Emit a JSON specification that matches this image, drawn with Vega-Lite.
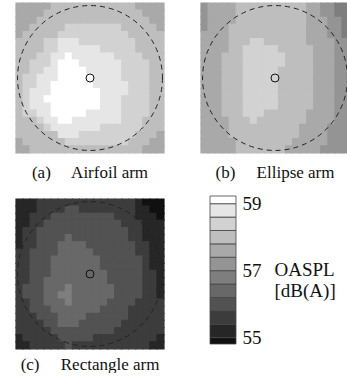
{
"$schema":"https://vega.github.io/schema/vega-lite/v6.json",
"background":"white",
"padding":{"left":15,"top":2,"right":0,"bottom":0},
"config":{"view":{"stroke":null},"title":{"font":"Liberation Serif","fontSize":17,"fontWeight":"normal","color":"#111"}},
"datasets":{
"a":[
{"i":0,"j":0,"v":57.6},{"i":1,"j":0,"v":57.6},{"i":2,"j":0,"v":57.6},{"i":3,"j":0,"v":57.6},{"i":4,"j":0,"v":57.6},{"i":5,"j":0,"v":58},{"i":6,"j":0,"v":58},{"i":7,"j":0,"v":58},{"i":8,"j":0,"v":58},{"i":9,"j":0,"v":58},{"i":10,"j":0,"v":58},{"i":11,"j":0,"v":58},{"i":12,"j":0,"v":58},{"i":13,"j":0,"v":58},{"i":14,"j":0,"v":58},{"i":15,"j":0,"v":58},{"i":16,"j":0,"v":58},{"i":17,"j":0,"v":57.6},{"i":18,"j":0,"v":57.6},{"i":19,"j":0,"v":57.6},{"i":20,"j":0,"v":57.6},
{"i":0,"j":1,"v":57.6},{"i":1,"j":1,"v":57.6},{"i":2,"j":1,"v":57.6},{"i":3,"j":1,"v":57.6},{"i":4,"j":1,"v":58},{"i":5,"j":1,"v":58},{"i":6,"j":1,"v":58},{"i":7,"j":1,"v":58},{"i":8,"j":1,"v":58},{"i":9,"j":1,"v":58},{"i":10,"j":1,"v":58},{"i":11,"j":1,"v":58},{"i":12,"j":1,"v":58},{"i":13,"j":1,"v":58},{"i":14,"j":1,"v":58},{"i":15,"j":1,"v":58},{"i":16,"j":1,"v":58},{"i":17,"j":1,"v":58},{"i":18,"j":1,"v":57.6},{"i":19,"j":1,"v":57.6},{"i":20,"j":1,"v":57.6},
{"i":0,"j":2,"v":57.6},{"i":1,"j":2,"v":57.6},{"i":2,"j":2,"v":57.6},{"i":3,"j":2,"v":58},{"i":4,"j":2,"v":58},{"i":5,"j":2,"v":58},{"i":6,"j":2,"v":58},{"i":7,"j":2,"v":58},{"i":8,"j":2,"v":58},{"i":9,"j":2,"v":58},{"i":10,"j":2,"v":58},{"i":11,"j":2,"v":58},{"i":12,"j":2,"v":58},{"i":13,"j":2,"v":58},{"i":14,"j":2,"v":58},{"i":15,"j":2,"v":58},{"i":16,"j":2,"v":58},{"i":17,"j":2,"v":58},{"i":18,"j":2,"v":58},{"i":19,"j":2,"v":57.6},{"i":20,"j":2,"v":57.6},
{"i":0,"j":3,"v":57.6},{"i":1,"j":3,"v":57.6},{"i":2,"j":3,"v":58},{"i":3,"j":3,"v":58},{"i":4,"j":3,"v":58},{"i":5,"j":3,"v":58},{"i":6,"j":3,"v":58},{"i":7,"j":3,"v":58.4},{"i":8,"j":3,"v":58.4},{"i":9,"j":3,"v":58.4},{"i":10,"j":3,"v":58.4},{"i":11,"j":3,"v":58.4},{"i":12,"j":3,"v":58.4},{"i":13,"j":3,"v":58.4},{"i":14,"j":3,"v":58.4},{"i":15,"j":3,"v":58},{"i":16,"j":3,"v":58},{"i":17,"j":3,"v":58},{"i":18,"j":3,"v":58},{"i":19,"j":3,"v":58},{"i":20,"j":3,"v":57.6},
{"i":0,"j":4,"v":57.6},{"i":1,"j":4,"v":58},{"i":2,"j":4,"v":58},{"i":3,"j":4,"v":58},{"i":4,"j":4,"v":58},{"i":5,"j":4,"v":58},{"i":6,"j":4,"v":58.4},{"i":7,"j":4,"v":58.4},{"i":8,"j":4,"v":58.4},{"i":9,"j":4,"v":58.4},{"i":10,"j":4,"v":58.4},{"i":11,"j":4,"v":58.4},{"i":12,"j":4,"v":58.4},{"i":13,"j":4,"v":58.4},{"i":14,"j":4,"v":58.4},{"i":15,"j":4,"v":58.4},{"i":16,"j":4,"v":58},{"i":17,"j":4,"v":58},{"i":18,"j":4,"v":58},{"i":19,"j":4,"v":58},{"i":20,"j":4,"v":58},
{"i":0,"j":5,"v":58},{"i":1,"j":5,"v":58},{"i":2,"j":5,"v":58},{"i":3,"j":5,"v":58},{"i":4,"j":5,"v":58.4},{"i":5,"j":5,"v":58.4},{"i":6,"j":5,"v":58.8},{"i":7,"j":5,"v":58.8},{"i":8,"j":5,"v":58.8},{"i":9,"j":5,"v":58.4},{"i":10,"j":5,"v":58.4},{"i":11,"j":5,"v":58.4},{"i":12,"j":5,"v":58.4},{"i":13,"j":5,"v":58.4},{"i":14,"j":5,"v":58.4},{"i":15,"j":5,"v":58.4},{"i":16,"j":5,"v":58.4},{"i":17,"j":5,"v":58},{"i":18,"j":5,"v":58},{"i":19,"j":5,"v":58},{"i":20,"j":5,"v":58},
{"i":0,"j":6,"v":58},{"i":1,"j":6,"v":58},{"i":2,"j":6,"v":58},{"i":3,"j":6,"v":58},{"i":4,"j":6,"v":58.4},{"i":5,"j":6,"v":58.4},{"i":6,"j":6,"v":58.8},{"i":7,"j":6,"v":58.8},{"i":8,"j":6,"v":58.8},{"i":9,"j":6,"v":58.8},{"i":10,"j":6,"v":58.8},{"i":11,"j":6,"v":58.8},{"i":12,"j":6,"v":58.4},{"i":13,"j":6,"v":58.4},{"i":14,"j":6,"v":58.4},{"i":15,"j":6,"v":58.4},{"i":16,"j":6,"v":58.4},{"i":17,"j":6,"v":58},{"i":18,"j":6,"v":58},{"i":19,"j":6,"v":58},{"i":20,"j":6,"v":58},
{"i":0,"j":7,"v":58},{"i":1,"j":7,"v":58},{"i":2,"j":7,"v":58},{"i":3,"j":7,"v":58.4},{"i":4,"j":7,"v":58.4},{"i":5,"j":7,"v":58.8},{"i":6,"j":7,"v":58.8},{"i":7,"j":7,"v":59.1},{"i":8,"j":7,"v":58.8},{"i":9,"j":7,"v":58.8},{"i":10,"j":7,"v":58.8},{"i":11,"j":7,"v":58.8},{"i":12,"j":7,"v":58.8},{"i":13,"j":7,"v":58.8},{"i":14,"j":7,"v":58.4},{"i":15,"j":7,"v":58.4},{"i":16,"j":7,"v":58.4},{"i":17,"j":7,"v":58.4},{"i":18,"j":7,"v":58},{"i":19,"j":7,"v":58},{"i":20,"j":7,"v":58},
{"i":0,"j":8,"v":58},{"i":1,"j":8,"v":58},{"i":2,"j":8,"v":58.4},{"i":3,"j":8,"v":58.4},{"i":4,"j":8,"v":58.4},{"i":5,"j":8,"v":58.8},{"i":6,"j":8,"v":59.1},{"i":7,"j":8,"v":59.1},{"i":8,"j":8,"v":59.1},{"i":9,"j":8,"v":58.8},{"i":10,"j":8,"v":58.8},{"i":11,"j":8,"v":58.8},{"i":12,"j":8,"v":58.8},{"i":13,"j":8,"v":58.8},{"i":14,"j":8,"v":58.8},{"i":15,"j":8,"v":58.4},{"i":16,"j":8,"v":58.4},{"i":17,"j":8,"v":58.4},{"i":18,"j":8,"v":58.4},{"i":19,"j":8,"v":58},{"i":20,"j":8,"v":58},
{"i":0,"j":9,"v":58},{"i":1,"j":9,"v":58},{"i":2,"j":9,"v":58.4},{"i":3,"j":9,"v":58.4},{"i":4,"j":9,"v":58.8},{"i":5,"j":9,"v":58.8},{"i":6,"j":9,"v":59.1},{"i":7,"j":9,"v":59.1},{"i":8,"j":9,"v":59.1},{"i":9,"j":9,"v":59.1},{"i":10,"j":9,"v":58.8},{"i":11,"j":9,"v":58.8},{"i":12,"j":9,"v":58.8},{"i":13,"j":9,"v":58.8},{"i":14,"j":9,"v":58.8},{"i":15,"j":9,"v":58.4},{"i":16,"j":9,"v":58.4},{"i":17,"j":9,"v":58.4},{"i":18,"j":9,"v":58.4},{"i":19,"j":9,"v":58},{"i":20,"j":9,"v":58},
{"i":0,"j":10,"v":58},{"i":1,"j":10,"v":58.4},{"i":2,"j":10,"v":58.4},{"i":3,"j":10,"v":58.8},{"i":4,"j":10,"v":58.8},{"i":5,"j":10,"v":58.8},{"i":6,"j":10,"v":59.1},{"i":7,"j":10,"v":59.1},{"i":8,"j":10,"v":59.1},{"i":9,"j":10,"v":59.1},{"i":10,"j":10,"v":59.1},{"i":11,"j":10,"v":58.8},{"i":12,"j":10,"v":58.8},{"i":13,"j":10,"v":58.8},{"i":14,"j":10,"v":58.8},{"i":15,"j":10,"v":58.4},{"i":16,"j":10,"v":58.4},{"i":17,"j":10,"v":58.4},{"i":18,"j":10,"v":58.4},{"i":19,"j":10,"v":58},{"i":20,"j":10,"v":58},
{"i":0,"j":11,"v":58},{"i":1,"j":11,"v":58.4},{"i":2,"j":11,"v":58.4},{"i":3,"j":11,"v":58.8},{"i":4,"j":11,"v":58.8},{"i":5,"j":11,"v":59.1},{"i":6,"j":11,"v":59.1},{"i":7,"j":11,"v":59.1},{"i":8,"j":11,"v":59.1},{"i":9,"j":11,"v":59.1},{"i":10,"j":11,"v":59.1},{"i":11,"j":11,"v":58.8},{"i":12,"j":11,"v":58.8},{"i":13,"j":11,"v":58.8},{"i":14,"j":11,"v":58.8},{"i":15,"j":11,"v":58.8},{"i":16,"j":11,"v":58.4},{"i":17,"j":11,"v":58.4},{"i":18,"j":11,"v":58.4},{"i":19,"j":11,"v":58},{"i":20,"j":11,"v":58},
{"i":0,"j":12,"v":58},{"i":1,"j":12,"v":58.4},{"i":2,"j":12,"v":58.8},{"i":3,"j":12,"v":58.8},{"i":4,"j":12,"v":58.8},{"i":5,"j":12,"v":59.1},{"i":6,"j":12,"v":59.1},{"i":7,"j":12,"v":59.1},{"i":8,"j":12,"v":59.1},{"i":9,"j":12,"v":59.1},{"i":10,"j":12,"v":59.1},{"i":11,"j":12,"v":59.1},{"i":12,"j":12,"v":58.8},{"i":13,"j":12,"v":58.8},{"i":14,"j":12,"v":58.8},{"i":15,"j":12,"v":58.8},{"i":16,"j":12,"v":58.4},{"i":17,"j":12,"v":58.4},{"i":18,"j":12,"v":58.4},{"i":19,"j":12,"v":58},{"i":20,"j":12,"v":58},
{"i":0,"j":13,"v":58},{"i":1,"j":13,"v":58.4},{"i":2,"j":13,"v":58.8},{"i":3,"j":13,"v":58.8},{"i":4,"j":13,"v":59.1},{"i":5,"j":13,"v":59.1},{"i":6,"j":13,"v":59.1},{"i":7,"j":13,"v":59.1},{"i":8,"j":13,"v":59.1},{"i":9,"j":13,"v":59.1},{"i":10,"j":13,"v":59.1},{"i":11,"j":13,"v":59.1},{"i":12,"j":13,"v":58.8},{"i":13,"j":13,"v":58.8},{"i":14,"j":13,"v":58.8},{"i":15,"j":13,"v":58.4},{"i":16,"j":13,"v":58.4},{"i":17,"j":13,"v":58.4},{"i":18,"j":13,"v":58.4},{"i":19,"j":13,"v":58},{"i":20,"j":13,"v":58},
{"i":0,"j":14,"v":58},{"i":1,"j":14,"v":58.4},{"i":2,"j":14,"v":58.8},{"i":3,"j":14,"v":58.8},{"i":4,"j":14,"v":58.8},{"i":5,"j":14,"v":59.1},{"i":6,"j":14,"v":59.1},{"i":7,"j":14,"v":59.1},{"i":8,"j":14,"v":59.1},{"i":9,"j":14,"v":59.1},{"i":10,"j":14,"v":59.1},{"i":11,"j":14,"v":59.1},{"i":12,"j":14,"v":58.8},{"i":13,"j":14,"v":58.8},{"i":14,"j":14,"v":58.8},{"i":15,"j":14,"v":58.4},{"i":16,"j":14,"v":58.4},{"i":17,"j":14,"v":58.4},{"i":18,"j":14,"v":58.4},{"i":19,"j":14,"v":58},{"i":20,"j":14,"v":58},
{"i":0,"j":15,"v":58},{"i":1,"j":15,"v":58.4},{"i":2,"j":15,"v":58.4},{"i":3,"j":15,"v":58.8},{"i":4,"j":15,"v":58.8},{"i":5,"j":15,"v":59.1},{"i":6,"j":15,"v":59.1},{"i":7,"j":15,"v":59.1},{"i":8,"j":15,"v":59.1},{"i":9,"j":15,"v":59.1},{"i":10,"j":15,"v":58.8},{"i":11,"j":15,"v":58.8},{"i":12,"j":15,"v":58.8},{"i":13,"j":15,"v":58.8},{"i":14,"j":15,"v":58.8},{"i":15,"j":15,"v":58.4},{"i":16,"j":15,"v":58.4},{"i":17,"j":15,"v":58.4},{"i":18,"j":15,"v":58.4},{"i":19,"j":15,"v":58},{"i":20,"j":15,"v":58},
{"i":0,"j":16,"v":58},{"i":1,"j":16,"v":58},{"i":2,"j":16,"v":58},{"i":3,"j":16,"v":58.4},{"i":4,"j":16,"v":58.8},{"i":5,"j":16,"v":58.8},{"i":6,"j":16,"v":59.1},{"i":7,"j":16,"v":59.1},{"i":8,"j":16,"v":58.8},{"i":9,"j":16,"v":58.8},{"i":10,"j":16,"v":58.8},{"i":11,"j":16,"v":58.8},{"i":12,"j":16,"v":58.8},{"i":13,"j":16,"v":58.8},{"i":14,"j":16,"v":58.8},{"i":15,"j":16,"v":58.4},{"i":16,"j":16,"v":58.4},{"i":17,"j":16,"v":58.4},{"i":18,"j":16,"v":58},{"i":19,"j":16,"v":58},{"i":20,"j":16,"v":58},
{"i":0,"j":17,"v":58},{"i":1,"j":17,"v":58},{"i":2,"j":17,"v":58},{"i":3,"j":17,"v":58},{"i":4,"j":17,"v":58.4},{"i":5,"j":17,"v":58.8},{"i":6,"j":17,"v":58.8},{"i":7,"j":17,"v":58.8},{"i":8,"j":17,"v":58.8},{"i":9,"j":17,"v":58.8},{"i":10,"j":17,"v":58.8},{"i":11,"j":17,"v":58.8},{"i":12,"j":17,"v":58.4},{"i":13,"j":17,"v":58.4},{"i":14,"j":17,"v":58.4},{"i":15,"j":17,"v":58.4},{"i":16,"j":17,"v":58.4},{"i":17,"j":17,"v":58.4},{"i":18,"j":17,"v":58},{"i":19,"j":17,"v":58},{"i":20,"j":17,"v":58},
{"i":0,"j":18,"v":58},{"i":1,"j":18,"v":58},{"i":2,"j":18,"v":58},{"i":3,"j":18,"v":58},{"i":4,"j":18,"v":58},{"i":5,"j":18,"v":58},{"i":6,"j":18,"v":58.8},{"i":7,"j":18,"v":58.8},{"i":8,"j":18,"v":58.8},{"i":9,"j":18,"v":58.4},{"i":10,"j":18,"v":58.4},{"i":11,"j":18,"v":58.4},{"i":12,"j":18,"v":58.4},{"i":13,"j":18,"v":58.4},{"i":14,"j":18,"v":58.4},{"i":15,"j":18,"v":58.4},{"i":16,"j":18,"v":58.4},{"i":17,"j":18,"v":58},{"i":18,"j":18,"v":58},{"i":19,"j":18,"v":58},{"i":20,"j":18,"v":57.6},
{"i":0,"j":19,"v":57.6},{"i":1,"j":19,"v":58},{"i":2,"j":19,"v":58},{"i":3,"j":19,"v":58},{"i":4,"j":19,"v":58},{"i":5,"j":19,"v":58},{"i":6,"j":19,"v":58},{"i":7,"j":19,"v":58.4},{"i":8,"j":19,"v":58.4},{"i":9,"j":19,"v":58.4},{"i":10,"j":19,"v":58.4},{"i":11,"j":19,"v":58.4},{"i":12,"j":19,"v":58.4},{"i":13,"j":19,"v":58.4},{"i":14,"j":19,"v":58.4},{"i":15,"j":19,"v":58.4},{"i":16,"j":19,"v":58},{"i":17,"j":19,"v":58},{"i":18,"j":19,"v":58},{"i":19,"j":19,"v":57.6},{"i":20,"j":19,"v":57.6},
{"i":0,"j":20,"v":57.6},{"i":1,"j":20,"v":57.6},{"i":2,"j":20,"v":58},{"i":3,"j":20,"v":58},{"i":4,"j":20,"v":58},{"i":5,"j":20,"v":58},{"i":6,"j":20,"v":58},{"i":7,"j":20,"v":58},{"i":8,"j":20,"v":58},{"i":9,"j":20,"v":58},{"i":10,"j":20,"v":58},{"i":11,"j":20,"v":58},{"i":12,"j":20,"v":58},{"i":13,"j":20,"v":58},{"i":14,"j":20,"v":58},{"i":15,"j":20,"v":58},{"i":16,"j":20,"v":58},{"i":17,"j":20,"v":58},{"i":18,"j":20,"v":57.6},{"i":19,"j":20,"v":57.6},{"i":20,"j":20,"v":57.6}
],
"b":[
{"i":0,"j":0,"v":57.2},{"i":1,"j":0,"v":57.6},{"i":2,"j":0,"v":57.6},{"i":3,"j":0,"v":57.6},{"i":4,"j":0,"v":57.6},{"i":5,"j":0,"v":58},{"i":6,"j":0,"v":58},{"i":7,"j":0,"v":58},{"i":8,"j":0,"v":58},{"i":9,"j":0,"v":58},{"i":10,"j":0,"v":58},{"i":11,"j":0,"v":58},{"i":12,"j":0,"v":58},{"i":13,"j":0,"v":58},{"i":14,"j":0,"v":58},{"i":15,"j":0,"v":57.6},{"i":16,"j":0,"v":57.6},{"i":17,"j":0,"v":57.2},{"i":18,"j":0,"v":57.2},{"i":19,"j":0,"v":56.8},{"i":20,"j":0,"v":56.8},
{"i":0,"j":1,"v":57.2},{"i":1,"j":1,"v":57.6},{"i":2,"j":1,"v":57.6},{"i":3,"j":1,"v":57.6},{"i":4,"j":1,"v":57.6},{"i":5,"j":1,"v":58},{"i":6,"j":1,"v":58},{"i":7,"j":1,"v":58},{"i":8,"j":1,"v":58},{"i":9,"j":1,"v":58},{"i":10,"j":1,"v":58},{"i":11,"j":1,"v":58},{"i":12,"j":1,"v":58},{"i":13,"j":1,"v":58},{"i":14,"j":1,"v":58},{"i":15,"j":1,"v":57.6},{"i":16,"j":1,"v":57.6},{"i":17,"j":1,"v":57.2},{"i":18,"j":1,"v":57.2},{"i":19,"j":1,"v":56.8},{"i":20,"j":1,"v":56.8},
{"i":0,"j":2,"v":57.2},{"i":1,"j":2,"v":57.6},{"i":2,"j":2,"v":57.6},{"i":3,"j":2,"v":57.6},{"i":4,"j":2,"v":57.6},{"i":5,"j":2,"v":58},{"i":6,"j":2,"v":58},{"i":7,"j":2,"v":58},{"i":8,"j":2,"v":58},{"i":9,"j":2,"v":58},{"i":10,"j":2,"v":58},{"i":11,"j":2,"v":58},{"i":12,"j":2,"v":58},{"i":13,"j":2,"v":58},{"i":14,"j":2,"v":58},{"i":15,"j":2,"v":57.6},{"i":16,"j":2,"v":57.6},{"i":17,"j":2,"v":57.6},{"i":18,"j":2,"v":57.2},{"i":19,"j":2,"v":57.2},{"i":20,"j":2,"v":56.8},
{"i":0,"j":3,"v":57.2},{"i":1,"j":3,"v":57.6},{"i":2,"j":3,"v":57.6},{"i":3,"j":3,"v":57.6},{"i":4,"j":3,"v":58},{"i":5,"j":3,"v":58},{"i":6,"j":3,"v":58},{"i":7,"j":3,"v":58},{"i":8,"j":3,"v":58},{"i":9,"j":3,"v":58},{"i":10,"j":3,"v":58},{"i":11,"j":3,"v":58},{"i":12,"j":3,"v":58},{"i":13,"j":3,"v":58},{"i":14,"j":3,"v":58},{"i":15,"j":3,"v":57.6},{"i":16,"j":3,"v":57.6},{"i":17,"j":3,"v":57.6},{"i":18,"j":3,"v":57.2},{"i":19,"j":3,"v":57.2},{"i":20,"j":3,"v":56.8},
{"i":0,"j":4,"v":57.6},{"i":1,"j":4,"v":57.6},{"i":2,"j":4,"v":57.6},{"i":3,"j":4,"v":57.6},{"i":4,"j":4,"v":58},{"i":5,"j":4,"v":58},{"i":6,"j":4,"v":58},{"i":7,"j":4,"v":58},{"i":8,"j":4,"v":58},{"i":9,"j":4,"v":58},{"i":10,"j":4,"v":58},{"i":11,"j":4,"v":58},{"i":12,"j":4,"v":58},{"i":13,"j":4,"v":58},{"i":14,"j":4,"v":58},{"i":15,"j":4,"v":57.6},{"i":16,"j":4,"v":57.6},{"i":17,"j":4,"v":57.6},{"i":18,"j":4,"v":57.2},{"i":19,"j":4,"v":57.2},{"i":20,"j":4,"v":56.8},
{"i":0,"j":5,"v":57.6},{"i":1,"j":5,"v":57.6},{"i":2,"j":5,"v":57.6},{"i":3,"j":5,"v":57.6},{"i":4,"j":5,"v":58},{"i":5,"j":5,"v":58},{"i":6,"j":5,"v":58},{"i":7,"j":5,"v":58.4},{"i":8,"j":5,"v":58.4},{"i":9,"j":5,"v":58},{"i":10,"j":5,"v":58},{"i":11,"j":5,"v":58},{"i":12,"j":5,"v":58},{"i":13,"j":5,"v":58},{"i":14,"j":5,"v":58},{"i":15,"j":5,"v":57.6},{"i":16,"j":5,"v":57.6},{"i":17,"j":5,"v":57.6},{"i":18,"j":5,"v":57.6},{"i":19,"j":5,"v":57.2},{"i":20,"j":5,"v":57.2},
{"i":0,"j":6,"v":57.6},{"i":1,"j":6,"v":57.6},{"i":2,"j":6,"v":57.6},{"i":3,"j":6,"v":57.6},{"i":4,"j":6,"v":58},{"i":5,"j":6,"v":58},{"i":6,"j":6,"v":58.4},{"i":7,"j":6,"v":58.4},{"i":8,"j":6,"v":58.4},{"i":9,"j":6,"v":58.4},{"i":10,"j":6,"v":58.4},{"i":11,"j":6,"v":58},{"i":12,"j":6,"v":58},{"i":13,"j":6,"v":58},{"i":14,"j":6,"v":58},{"i":15,"j":6,"v":58},{"i":16,"j":6,"v":57.6},{"i":17,"j":6,"v":57.6},{"i":18,"j":6,"v":57.6},{"i":19,"j":6,"v":57.2},{"i":20,"j":6,"v":57.2},
{"i":0,"j":7,"v":57.6},{"i":1,"j":7,"v":57.6},{"i":2,"j":7,"v":57.6},{"i":3,"j":7,"v":58},{"i":4,"j":7,"v":58},{"i":5,"j":7,"v":58},{"i":6,"j":7,"v":58.4},{"i":7,"j":7,"v":58.4},{"i":8,"j":7,"v":58.4},{"i":9,"j":7,"v":58.4},{"i":10,"j":7,"v":58.4},{"i":11,"j":7,"v":58.4},{"i":12,"j":7,"v":58},{"i":13,"j":7,"v":58},{"i":14,"j":7,"v":58},{"i":15,"j":7,"v":58},{"i":16,"j":7,"v":57.6},{"i":17,"j":7,"v":57.6},{"i":18,"j":7,"v":57.6},{"i":19,"j":7,"v":57.2},{"i":20,"j":7,"v":57.2},
{"i":0,"j":8,"v":57.6},{"i":1,"j":8,"v":57.6},{"i":2,"j":8,"v":57.6},{"i":3,"j":8,"v":58},{"i":4,"j":8,"v":58},{"i":5,"j":8,"v":58},{"i":6,"j":8,"v":58.4},{"i":7,"j":8,"v":58.4},{"i":8,"j":8,"v":58.4},{"i":9,"j":8,"v":58.4},{"i":10,"j":8,"v":58.4},{"i":11,"j":8,"v":58.4},{"i":12,"j":8,"v":58},{"i":13,"j":8,"v":58},{"i":14,"j":8,"v":58},{"i":15,"j":8,"v":58},{"i":16,"j":8,"v":57.6},{"i":17,"j":8,"v":57.6},{"i":18,"j":8,"v":57.6},{"i":19,"j":8,"v":57.2},{"i":20,"j":8,"v":57.2},
{"i":0,"j":9,"v":57.6},{"i":1,"j":9,"v":57.6},{"i":2,"j":9,"v":57.6},{"i":3,"j":9,"v":58},{"i":4,"j":9,"v":58},{"i":5,"j":9,"v":58},{"i":6,"j":9,"v":58.4},{"i":7,"j":9,"v":58.4},{"i":8,"j":9,"v":58.4},{"i":9,"j":9,"v":58.4},{"i":10,"j":9,"v":58.4},{"i":11,"j":9,"v":58},{"i":12,"j":9,"v":58},{"i":13,"j":9,"v":58},{"i":14,"j":9,"v":58},{"i":15,"j":9,"v":58},{"i":16,"j":9,"v":57.6},{"i":17,"j":9,"v":57.6},{"i":18,"j":9,"v":57.6},{"i":19,"j":9,"v":57.2},{"i":20,"j":9,"v":57.2},
{"i":0,"j":10,"v":57.6},{"i":1,"j":10,"v":57.6},{"i":2,"j":10,"v":57.6},{"i":3,"j":10,"v":58},{"i":4,"j":10,"v":58},{"i":5,"j":10,"v":58},{"i":6,"j":10,"v":58.4},{"i":7,"j":10,"v":58.4},{"i":8,"j":10,"v":58.4},{"i":9,"j":10,"v":58.4},{"i":10,"j":10,"v":58.4},{"i":11,"j":10,"v":58},{"i":12,"j":10,"v":58},{"i":13,"j":10,"v":58},{"i":14,"j":10,"v":58},{"i":15,"j":10,"v":58},{"i":16,"j":10,"v":57.6},{"i":17,"j":10,"v":57.6},{"i":18,"j":10,"v":57.6},{"i":19,"j":10,"v":57.2},{"i":20,"j":10,"v":57.2},
{"i":0,"j":11,"v":57.6},{"i":1,"j":11,"v":57.6},{"i":2,"j":11,"v":57.6},{"i":3,"j":11,"v":58},{"i":4,"j":11,"v":58},{"i":5,"j":11,"v":58},{"i":6,"j":11,"v":58.4},{"i":7,"j":11,"v":58.4},{"i":8,"j":11,"v":58.4},{"i":9,"j":11,"v":58.4},{"i":10,"j":11,"v":58.4},{"i":11,"j":11,"v":58},{"i":12,"j":11,"v":58},{"i":13,"j":11,"v":58},{"i":14,"j":11,"v":58},{"i":15,"j":11,"v":58},{"i":16,"j":11,"v":57.6},{"i":17,"j":11,"v":57.6},{"i":18,"j":11,"v":57.6},{"i":19,"j":11,"v":57.2},{"i":20,"j":11,"v":57.2},
{"i":0,"j":12,"v":57.6},{"i":1,"j":12,"v":57.6},{"i":2,"j":12,"v":57.6},{"i":3,"j":12,"v":58},{"i":4,"j":12,"v":58},{"i":5,"j":12,"v":58},{"i":6,"j":12,"v":58.4},{"i":7,"j":12,"v":58.4},{"i":8,"j":12,"v":58.4},{"i":9,"j":12,"v":58.4},{"i":10,"j":12,"v":58.4},{"i":11,"j":12,"v":58},{"i":12,"j":12,"v":58},{"i":13,"j":12,"v":58},{"i":14,"j":12,"v":58},{"i":15,"j":12,"v":58},{"i":16,"j":12,"v":57.6},{"i":17,"j":12,"v":57.6},{"i":18,"j":12,"v":57.6},{"i":19,"j":12,"v":57.2},{"i":20,"j":12,"v":57.2},
{"i":0,"j":13,"v":57.6},{"i":1,"j":13,"v":57.6},{"i":2,"j":13,"v":57.6},{"i":3,"j":13,"v":58},{"i":4,"j":13,"v":58},{"i":5,"j":13,"v":58},{"i":6,"j":13,"v":58.4},{"i":7,"j":13,"v":58.4},{"i":8,"j":13,"v":58.4},{"i":9,"j":13,"v":58.4},{"i":10,"j":13,"v":58.4},{"i":11,"j":13,"v":58},{"i":12,"j":13,"v":58},{"i":13,"j":13,"v":58},{"i":14,"j":13,"v":58},{"i":15,"j":13,"v":58},{"i":16,"j":13,"v":57.6},{"i":17,"j":13,"v":57.6},{"i":18,"j":13,"v":57.6},{"i":19,"j":13,"v":57.2},{"i":20,"j":13,"v":57.2},
{"i":0,"j":14,"v":57.6},{"i":1,"j":14,"v":57.6},{"i":2,"j":14,"v":57.6},{"i":3,"j":14,"v":58},{"i":4,"j":14,"v":58},{"i":5,"j":14,"v":58},{"i":6,"j":14,"v":58.4},{"i":7,"j":14,"v":58.4},{"i":8,"j":14,"v":58.4},{"i":9,"j":14,"v":58.4},{"i":10,"j":14,"v":58.4},{"i":11,"j":14,"v":58},{"i":12,"j":14,"v":58},{"i":13,"j":14,"v":58},{"i":14,"j":14,"v":58},{"i":15,"j":14,"v":58},{"i":16,"j":14,"v":57.6},{"i":17,"j":14,"v":57.6},{"i":18,"j":14,"v":57.6},{"i":19,"j":14,"v":57.2},{"i":20,"j":14,"v":57.2},
{"i":0,"j":15,"v":57.6},{"i":1,"j":15,"v":57.6},{"i":2,"j":15,"v":57.6},{"i":3,"j":15,"v":58},{"i":4,"j":15,"v":58},{"i":5,"j":15,"v":58},{"i":6,"j":15,"v":58.4},{"i":7,"j":15,"v":58.4},{"i":8,"j":15,"v":58.4},{"i":9,"j":15,"v":58},{"i":10,"j":15,"v":58},{"i":11,"j":15,"v":58},{"i":12,"j":15,"v":58},{"i":13,"j":15,"v":58},{"i":14,"j":15,"v":58},{"i":15,"j":15,"v":57.6},{"i":16,"j":15,"v":57.6},{"i":17,"j":15,"v":57.6},{"i":18,"j":15,"v":57.6},{"i":19,"j":15,"v":57.2},{"i":20,"j":15,"v":57.2},
{"i":0,"j":16,"v":57.6},{"i":1,"j":16,"v":57.6},{"i":2,"j":16,"v":57.6},{"i":3,"j":16,"v":57.6},{"i":4,"j":16,"v":58},{"i":5,"j":16,"v":58},{"i":6,"j":16,"v":58},{"i":7,"j":16,"v":58.4},{"i":8,"j":16,"v":58},{"i":9,"j":16,"v":58},{"i":10,"j":16,"v":58},{"i":11,"j":16,"v":58},{"i":12,"j":16,"v":58},{"i":13,"j":16,"v":58},{"i":14,"j":16,"v":58},{"i":15,"j":16,"v":57.6},{"i":16,"j":16,"v":57.6},{"i":17,"j":16,"v":57.6},{"i":18,"j":16,"v":57.6},{"i":19,"j":16,"v":57.2},{"i":20,"j":16,"v":57.2},
{"i":0,"j":17,"v":57.6},{"i":1,"j":17,"v":57.6},{"i":2,"j":17,"v":57.6},{"i":3,"j":17,"v":57.6},{"i":4,"j":17,"v":58},{"i":5,"j":17,"v":58},{"i":6,"j":17,"v":58},{"i":7,"j":17,"v":58},{"i":8,"j":17,"v":58},{"i":9,"j":17,"v":58},{"i":10,"j":17,"v":58},{"i":11,"j":17,"v":58},{"i":12,"j":17,"v":58},{"i":13,"j":17,"v":58},{"i":14,"j":17,"v":57.6},{"i":15,"j":17,"v":57.6},{"i":16,"j":17,"v":57.6},{"i":17,"j":17,"v":57.6},{"i":18,"j":17,"v":57.2},{"i":19,"j":17,"v":57.2},{"i":20,"j":17,"v":57.2},
{"i":0,"j":18,"v":57.6},{"i":1,"j":18,"v":57.6},{"i":2,"j":18,"v":57.6},{"i":3,"j":18,"v":57.6},{"i":4,"j":18,"v":58},{"i":5,"j":18,"v":58},{"i":6,"j":18,"v":58},{"i":7,"j":18,"v":58},{"i":8,"j":18,"v":58},{"i":9,"j":18,"v":58},{"i":10,"j":18,"v":58},{"i":11,"j":18,"v":58},{"i":12,"j":18,"v":58},{"i":13,"j":18,"v":58},{"i":14,"j":18,"v":57.6},{"i":15,"j":18,"v":57.6},{"i":16,"j":18,"v":57.6},{"i":17,"j":18,"v":57.6},{"i":18,"j":18,"v":57.2},{"i":19,"j":18,"v":57.2},{"i":20,"j":18,"v":57.2},
{"i":0,"j":19,"v":57.6},{"i":1,"j":19,"v":57.6},{"i":2,"j":19,"v":57.6},{"i":3,"j":19,"v":57.6},{"i":4,"j":19,"v":57.6},{"i":5,"j":19,"v":58},{"i":6,"j":19,"v":58},{"i":7,"j":19,"v":58},{"i":8,"j":19,"v":58},{"i":9,"j":19,"v":58},{"i":10,"j":19,"v":58},{"i":11,"j":19,"v":58},{"i":12,"j":19,"v":58},{"i":13,"j":19,"v":57.6},{"i":14,"j":19,"v":57.6},{"i":15,"j":19,"v":57.6},{"i":16,"j":19,"v":57.6},{"i":17,"j":19,"v":57.6},{"i":18,"j":19,"v":57.2},{"i":19,"j":19,"v":57.2},{"i":20,"j":19,"v":57.2},
{"i":0,"j":20,"v":57.6},{"i":1,"j":20,"v":57.6},{"i":2,"j":20,"v":57.6},{"i":3,"j":20,"v":57.6},{"i":4,"j":20,"v":57.6},{"i":5,"j":20,"v":58},{"i":6,"j":20,"v":58},{"i":7,"j":20,"v":58},{"i":8,"j":20,"v":58},{"i":9,"j":20,"v":58},{"i":10,"j":20,"v":58},{"i":11,"j":20,"v":58},{"i":12,"j":20,"v":57.6},{"i":13,"j":20,"v":57.6},{"i":14,"j":20,"v":57.6},{"i":15,"j":20,"v":57.6},{"i":16,"j":20,"v":57.6},{"i":17,"j":20,"v":57.2},{"i":18,"j":20,"v":57.2},{"i":19,"j":20,"v":57.2},{"i":20,"j":20,"v":57.2}
],
"c":[
{"i":0,"j":0,"v":55.2},{"i":1,"j":0,"v":55.2},{"i":2,"j":0,"v":55.2},{"i":3,"j":0,"v":55.6},{"i":4,"j":0,"v":55.6},{"i":5,"j":0,"v":55.6},{"i":6,"j":0,"v":55.6},{"i":7,"j":0,"v":55.6},{"i":8,"j":0,"v":55.6},{"i":9,"j":0,"v":55.6},{"i":10,"j":0,"v":55.6},{"i":11,"j":0,"v":55.6},{"i":12,"j":0,"v":55.6},{"i":13,"j":0,"v":55.6},{"i":14,"j":0,"v":55.6},{"i":15,"j":0,"v":55.6},{"i":16,"j":0,"v":55.6},{"i":17,"j":0,"v":55.2},{"i":18,"j":0,"v":54.9},{"i":19,"j":0,"v":54.9},{"i":20,"j":0,"v":54.9},
{"i":0,"j":1,"v":55.2},{"i":1,"j":1,"v":55.2},{"i":2,"j":1,"v":55.2},{"i":3,"j":1,"v":55.6},{"i":4,"j":1,"v":55.6},{"i":5,"j":1,"v":55.6},{"i":6,"j":1,"v":55.6},{"i":7,"j":1,"v":56},{"i":8,"j":1,"v":56},{"i":9,"j":1,"v":55.6},{"i":10,"j":1,"v":55.6},{"i":11,"j":1,"v":55.6},{"i":12,"j":1,"v":55.6},{"i":13,"j":1,"v":55.6},{"i":14,"j":1,"v":55.6},{"i":15,"j":1,"v":55.6},{"i":16,"j":1,"v":55.6},{"i":17,"j":1,"v":55.2},{"i":18,"j":1,"v":55.2},{"i":19,"j":1,"v":54.9},{"i":20,"j":1,"v":54.9},
{"i":0,"j":2,"v":55.2},{"i":1,"j":2,"v":55.2},{"i":2,"j":2,"v":55.6},{"i":3,"j":2,"v":55.6},{"i":4,"j":2,"v":55.6},{"i":5,"j":2,"v":56},{"i":6,"j":2,"v":56},{"i":7,"j":2,"v":56},{"i":8,"j":2,"v":56},{"i":9,"j":2,"v":56},{"i":10,"j":2,"v":56},{"i":11,"j":2,"v":56},{"i":12,"j":2,"v":56},{"i":13,"j":2,"v":56},{"i":14,"j":2,"v":55.6},{"i":15,"j":2,"v":55.6},{"i":16,"j":2,"v":55.6},{"i":17,"j":2,"v":55.2},{"i":18,"j":2,"v":55.2},{"i":19,"j":2,"v":55.2},{"i":20,"j":2,"v":54.9},
{"i":0,"j":3,"v":55.2},{"i":1,"j":3,"v":55.2},{"i":2,"j":3,"v":55.6},{"i":3,"j":3,"v":55.6},{"i":4,"j":3,"v":56},{"i":5,"j":3,"v":56},{"i":6,"j":3,"v":56},{"i":7,"j":3,"v":56},{"i":8,"j":3,"v":56},{"i":9,"j":3,"v":56},{"i":10,"j":3,"v":56},{"i":11,"j":3,"v":56},{"i":12,"j":3,"v":56},{"i":13,"j":3,"v":56},{"i":14,"j":3,"v":56},{"i":15,"j":3,"v":55.6},{"i":16,"j":3,"v":55.6},{"i":17,"j":3,"v":55.6},{"i":18,"j":3,"v":55.2},{"i":19,"j":3,"v":55.2},{"i":20,"j":3,"v":55.2},
{"i":0,"j":4,"v":55.2},{"i":1,"j":4,"v":55.6},{"i":2,"j":4,"v":55.6},{"i":3,"j":4,"v":56},{"i":4,"j":4,"v":56},{"i":5,"j":4,"v":56},{"i":6,"j":4,"v":56},{"i":7,"j":4,"v":56},{"i":8,"j":4,"v":56},{"i":9,"j":4,"v":56},{"i":10,"j":4,"v":56},{"i":11,"j":4,"v":56},{"i":12,"j":4,"v":56},{"i":13,"j":4,"v":56},{"i":14,"j":4,"v":56},{"i":15,"j":4,"v":56},{"i":16,"j":4,"v":55.6},{"i":17,"j":4,"v":55.6},{"i":18,"j":4,"v":55.2},{"i":19,"j":4,"v":55.2},{"i":20,"j":4,"v":55.2},
{"i":0,"j":5,"v":55.2},{"i":1,"j":5,"v":55.6},{"i":2,"j":5,"v":55.6},{"i":3,"j":5,"v":56},{"i":4,"j":5,"v":56},{"i":5,"j":5,"v":56},{"i":6,"j":5,"v":56},{"i":7,"j":5,"v":56.4},{"i":8,"j":5,"v":56},{"i":9,"j":5,"v":56},{"i":10,"j":5,"v":56},{"i":11,"j":5,"v":56},{"i":12,"j":5,"v":56},{"i":13,"j":5,"v":56},{"i":14,"j":5,"v":56},{"i":15,"j":5,"v":56},{"i":16,"j":5,"v":55.6},{"i":17,"j":5,"v":55.6},{"i":18,"j":5,"v":55.2},{"i":19,"j":5,"v":55.2},{"i":20,"j":5,"v":55.2},
{"i":0,"j":6,"v":55.2},{"i":1,"j":6,"v":55.6},{"i":2,"j":6,"v":55.6},{"i":3,"j":6,"v":56},{"i":4,"j":6,"v":56},{"i":5,"j":6,"v":56},{"i":6,"j":6,"v":56.4},{"i":7,"j":6,"v":56.4},{"i":8,"j":6,"v":56.4},{"i":9,"j":6,"v":56.4},{"i":10,"j":6,"v":56},{"i":11,"j":6,"v":56},{"i":12,"j":6,"v":56},{"i":13,"j":6,"v":56},{"i":14,"j":6,"v":56},{"i":15,"j":6,"v":56},{"i":16,"j":6,"v":56},{"i":17,"j":6,"v":55.6},{"i":18,"j":6,"v":55.6},{"i":19,"j":6,"v":55.2},{"i":20,"j":6,"v":55.2},
{"i":0,"j":7,"v":55.6},{"i":1,"j":7,"v":55.6},{"i":2,"j":7,"v":56},{"i":3,"j":7,"v":56},{"i":4,"j":7,"v":56},{"i":5,"j":7,"v":56},{"i":6,"j":7,"v":56.4},{"i":7,"j":7,"v":56.4},{"i":8,"j":7,"v":56.4},{"i":9,"j":7,"v":56.4},{"i":10,"j":7,"v":56.4},{"i":11,"j":7,"v":56},{"i":12,"j":7,"v":56},{"i":13,"j":7,"v":56},{"i":14,"j":7,"v":56},{"i":15,"j":7,"v":56},{"i":16,"j":7,"v":56},{"i":17,"j":7,"v":55.6},{"i":18,"j":7,"v":55.6},{"i":19,"j":7,"v":55.2},{"i":20,"j":7,"v":55.2},
{"i":0,"j":8,"v":55.6},{"i":1,"j":8,"v":55.6},{"i":2,"j":8,"v":56},{"i":3,"j":8,"v":56},{"i":4,"j":8,"v":56},{"i":5,"j":8,"v":56.4},{"i":6,"j":8,"v":56.4},{"i":7,"j":8,"v":56.4},{"i":8,"j":8,"v":56.4},{"i":9,"j":8,"v":56.4},{"i":10,"j":8,"v":56.4},{"i":11,"j":8,"v":56.4},{"i":12,"j":8,"v":56},{"i":13,"j":8,"v":56},{"i":14,"j":8,"v":56},{"i":15,"j":8,"v":56},{"i":16,"j":8,"v":56},{"i":17,"j":8,"v":56},{"i":18,"j":8,"v":55.6},{"i":19,"j":8,"v":55.2},{"i":20,"j":8,"v":55.2},
{"i":0,"j":9,"v":55.6},{"i":1,"j":9,"v":55.6},{"i":2,"j":9,"v":56},{"i":3,"j":9,"v":56},{"i":4,"j":9,"v":56},{"i":5,"j":9,"v":56.4},{"i":6,"j":9,"v":56.4},{"i":7,"j":9,"v":56.4},{"i":8,"j":9,"v":56.4},{"i":9,"j":9,"v":56.4},{"i":10,"j":9,"v":56.4},{"i":11,"j":9,"v":56.4},{"i":12,"j":9,"v":56},{"i":13,"j":9,"v":56},{"i":14,"j":9,"v":56},{"i":15,"j":9,"v":56},{"i":16,"j":9,"v":56},{"i":17,"j":9,"v":56},{"i":18,"j":9,"v":55.6},{"i":19,"j":9,"v":55.2},{"i":20,"j":9,"v":55.2},
{"i":0,"j":10,"v":55.6},{"i":1,"j":10,"v":55.6},{"i":2,"j":10,"v":56},{"i":3,"j":10,"v":56},{"i":4,"j":10,"v":56},{"i":5,"j":10,"v":56.4},{"i":6,"j":10,"v":56.4},{"i":7,"j":10,"v":56.4},{"i":8,"j":10,"v":56.4},{"i":9,"j":10,"v":56.4},{"i":10,"j":10,"v":56.4},{"i":11,"j":10,"v":56.4},{"i":12,"j":10,"v":56.4},{"i":13,"j":10,"v":56},{"i":14,"j":10,"v":56},{"i":15,"j":10,"v":56},{"i":16,"j":10,"v":56},{"i":17,"j":10,"v":56},{"i":18,"j":10,"v":55.6},{"i":19,"j":10,"v":55.6},{"i":20,"j":10,"v":55.2},
{"i":0,"j":11,"v":55.6},{"i":1,"j":11,"v":55.6},{"i":2,"j":11,"v":56},{"i":3,"j":11,"v":56},{"i":4,"j":11,"v":56.4},{"i":5,"j":11,"v":56.4},{"i":6,"j":11,"v":56.4},{"i":7,"j":11,"v":56.4},{"i":8,"j":11,"v":56.4},{"i":9,"j":11,"v":56.4},{"i":10,"j":11,"v":56.4},{"i":11,"j":11,"v":56.4},{"i":12,"j":11,"v":56.4},{"i":13,"j":11,"v":56},{"i":14,"j":11,"v":56},{"i":15,"j":11,"v":56},{"i":16,"j":11,"v":56},{"i":17,"j":11,"v":56},{"i":18,"j":11,"v":55.6},{"i":19,"j":11,"v":55.6},{"i":20,"j":11,"v":55.2},
{"i":0,"j":12,"v":55.6},{"i":1,"j":12,"v":56},{"i":2,"j":12,"v":56},{"i":3,"j":12,"v":56},{"i":4,"j":12,"v":56.4},{"i":5,"j":12,"v":56.4},{"i":6,"j":12,"v":56.4},{"i":7,"j":12,"v":56.8},{"i":8,"j":12,"v":56.4},{"i":9,"j":12,"v":56.4},{"i":10,"j":12,"v":56.4},{"i":11,"j":12,"v":56.4},{"i":12,"j":12,"v":56.4},{"i":13,"j":12,"v":56.4},{"i":14,"j":12,"v":56},{"i":15,"j":12,"v":56},{"i":16,"j":12,"v":56},{"i":17,"j":12,"v":56},{"i":18,"j":12,"v":55.6},{"i":19,"j":12,"v":55.6},{"i":20,"j":12,"v":55.2},
{"i":0,"j":13,"v":55.6},{"i":1,"j":13,"v":56},{"i":2,"j":13,"v":56},{"i":3,"j":13,"v":56},{"i":4,"j":13,"v":56.4},{"i":5,"j":13,"v":56.4},{"i":6,"j":13,"v":56.8},{"i":7,"j":13,"v":56.8},{"i":8,"j":13,"v":56.4},{"i":9,"j":13,"v":56.4},{"i":10,"j":13,"v":56.4},{"i":11,"j":13,"v":56.4},{"i":12,"j":13,"v":56.4},{"i":13,"j":13,"v":56.4},{"i":14,"j":13,"v":56},{"i":15,"j":13,"v":56},{"i":16,"j":13,"v":56},{"i":17,"j":13,"v":56},{"i":18,"j":13,"v":55.6},{"i":19,"j":13,"v":55.6},{"i":20,"j":13,"v":55.2},
{"i":0,"j":14,"v":55.6},{"i":1,"j":14,"v":55.6},{"i":2,"j":14,"v":56},{"i":3,"j":14,"v":56},{"i":4,"j":14,"v":56.4},{"i":5,"j":14,"v":56.4},{"i":6,"j":14,"v":56.4},{"i":7,"j":14,"v":56.8},{"i":8,"j":14,"v":56.4},{"i":9,"j":14,"v":56.4},{"i":10,"j":14,"v":56.4},{"i":11,"j":14,"v":56.4},{"i":12,"j":14,"v":56.4},{"i":13,"j":14,"v":56},{"i":14,"j":14,"v":56},{"i":15,"j":14,"v":56},{"i":16,"j":14,"v":56},{"i":17,"j":14,"v":55.6},{"i":18,"j":14,"v":55.6},{"i":19,"j":14,"v":55.6},{"i":20,"j":14,"v":55.6},
{"i":0,"j":15,"v":55.6},{"i":1,"j":15,"v":55.6},{"i":2,"j":15,"v":56},{"i":3,"j":15,"v":56},{"i":4,"j":15,"v":56},{"i":5,"j":15,"v":56.4},{"i":6,"j":15,"v":56.4},{"i":7,"j":15,"v":56.4},{"i":8,"j":15,"v":56.4},{"i":9,"j":15,"v":56.4},{"i":10,"j":15,"v":56.4},{"i":11,"j":15,"v":56.4},{"i":12,"j":15,"v":56},{"i":13,"j":15,"v":56},{"i":14,"j":15,"v":56},{"i":15,"j":15,"v":56},{"i":16,"j":15,"v":55.6},{"i":17,"j":15,"v":55.6},{"i":18,"j":15,"v":55.6},{"i":19,"j":15,"v":55.6},{"i":20,"j":15,"v":55.6},
{"i":0,"j":16,"v":55.6},{"i":1,"j":16,"v":55.6},{"i":2,"j":16,"v":55.6},{"i":3,"j":16,"v":56},{"i":4,"j":16,"v":56},{"i":5,"j":16,"v":56},{"i":6,"j":16,"v":56.4},{"i":7,"j":16,"v":56.4},{"i":8,"j":16,"v":56.4},{"i":9,"j":16,"v":56.4},{"i":10,"j":16,"v":56},{"i":11,"j":16,"v":56},{"i":12,"j":16,"v":56},{"i":13,"j":16,"v":56},{"i":14,"j":16,"v":56},{"i":15,"j":16,"v":56},{"i":16,"j":16,"v":55.6},{"i":17,"j":16,"v":55.6},{"i":18,"j":16,"v":55.6},{"i":19,"j":16,"v":55.6},{"i":20,"j":16,"v":55.6},
{"i":0,"j":17,"v":55.6},{"i":1,"j":17,"v":55.6},{"i":2,"j":17,"v":55.6},{"i":3,"j":17,"v":55.6},{"i":4,"j":17,"v":56},{"i":5,"j":17,"v":56},{"i":6,"j":17,"v":56.4},{"i":7,"j":17,"v":56.4},{"i":8,"j":17,"v":56.4},{"i":9,"j":17,"v":56},{"i":10,"j":17,"v":56},{"i":11,"j":17,"v":56},{"i":12,"j":17,"v":56},{"i":13,"j":17,"v":56},{"i":14,"j":17,"v":56},{"i":15,"j":17,"v":55.6},{"i":16,"j":17,"v":55.6},{"i":17,"j":17,"v":55.6},{"i":18,"j":17,"v":55.6},{"i":19,"j":17,"v":55.6},{"i":20,"j":17,"v":55.6},
{"i":0,"j":18,"v":55.6},{"i":1,"j":18,"v":55.6},{"i":2,"j":18,"v":55.6},{"i":3,"j":18,"v":55.6},{"i":4,"j":18,"v":55.6},{"i":5,"j":18,"v":56},{"i":6,"j":18,"v":56},{"i":7,"j":18,"v":56},{"i":8,"j":18,"v":56},{"i":9,"j":18,"v":56},{"i":10,"j":18,"v":56},{"i":11,"j":18,"v":56},{"i":12,"j":18,"v":56},{"i":13,"j":18,"v":56},{"i":14,"j":18,"v":55.6},{"i":15,"j":18,"v":55.6},{"i":16,"j":18,"v":55.6},{"i":17,"j":18,"v":55.6},{"i":18,"j":18,"v":55.6},{"i":19,"j":18,"v":55.6},{"i":20,"j":18,"v":55.6},
{"i":0,"j":19,"v":55.2},{"i":1,"j":19,"v":55.6},{"i":2,"j":19,"v":55.6},{"i":3,"j":19,"v":55.6},{"i":4,"j":19,"v":55.6},{"i":5,"j":19,"v":55.6},{"i":6,"j":19,"v":56},{"i":7,"j":19,"v":56},{"i":8,"j":19,"v":56},{"i":9,"j":19,"v":56},{"i":10,"j":19,"v":56},{"i":11,"j":19,"v":55.6},{"i":12,"j":19,"v":55.6},{"i":13,"j":19,"v":55.6},{"i":14,"j":19,"v":55.6},{"i":15,"j":19,"v":55.6},{"i":16,"j":19,"v":55.6},{"i":17,"j":19,"v":55.6},{"i":18,"j":19,"v":55.6},{"i":19,"j":19,"v":55.6},{"i":20,"j":19,"v":55.2},
{"i":0,"j":20,"v":55.2},{"i":1,"j":20,"v":55.2},{"i":2,"j":20,"v":55.6},{"i":3,"j":20,"v":55.6},{"i":4,"j":20,"v":55.6},{"i":5,"j":20,"v":55.6},{"i":6,"j":20,"v":55.6},{"i":7,"j":20,"v":56},{"i":8,"j":20,"v":55.6},{"i":9,"j":20,"v":55.6},{"i":10,"j":20,"v":55.6},{"i":11,"j":20,"v":55.6},{"i":12,"j":20,"v":55.6},{"i":13,"j":20,"v":55.6},{"i":14,"j":20,"v":55.6},{"i":15,"j":20,"v":55.6},{"i":16,"j":20,"v":55.6},{"i":17,"j":20,"v":55.6},{"i":18,"j":20,"v":55.6},{"i":19,"j":20,"v":55.2},{"i":20,"j":20,"v":55.2}
],
"bar":[
{"lo":54.81,"hi":55},{"lo":55,"hi":55.4},{"lo":55.4,"hi":55.8},{"lo":55.8,"hi":56.2},{"lo":56.2,"hi":56.6},{"lo":56.6,"hi":57},{"lo":57,"hi":57.4},{"lo":57.4,"hi":57.8},{"lo":57.8,"hi":58.2},{"lo":58.2,"hi":58.6},{"lo":58.6,"hi":59},{"lo":59,"hi":59.23}
],
"probe":[{"i":10,"j":10}]
},
"spacing":13,
"vconcat":[
{"spacing":35,"hconcat":[
{"width":148,"height":150,
 "title":{"text":"(a)\u2003 Airfoil arm","orient":"bottom","anchor":"middle","offset":11},
 "layer":[
  {"data":{"name":"a"},"mark":{"type":"rect","strokeWidth":1.2},
   "encoding":{
    "x":{"field":"i","type":"ordinal","scale":{"type":"band","domain":[0,1,2,3,4,5,6,7,8,9,10,11,12,13,14,15,16,17,18,19,20],"paddingInner":0,"paddingOuter":0},"axis":null},
    "y":{"field":"j","type":"ordinal","scale":{"type":"band","domain":[0,1,2,3,4,5,6,7,8,9,10,11,12,13,14,15,16,17,18,19,20],"paddingInner":0,"paddingOuter":0},"axis":null},
    "color":{"field":"v","type":"quantitative","scale":{"type":"threshold","domain":[55,55.4,55.8,56.2,56.6,57,57.4,57.8,58.2,58.6,59],"range":["#101010","#262626","#3c3c3c","#525252","#686868","#7e7e7e","#949494","#a9a9a9","#bebebe","#d2d2d2","#e6e6e6","#ffffff"]},"legend":null},
    "stroke":{"field":"v","type":"quantitative","scale":{"type":"threshold","domain":[55,55.4,55.8,56.2,56.6,57,57.4,57.8,58.2,58.6,59],"range":["#101010","#262626","#3c3c3c","#525252","#686868","#7e7e7e","#949494","#a9a9a9","#bebebe","#d2d2d2","#e6e6e6","#ffffff"]},"legend":null}}},
  {"data":{"name":"probe"},"mark":{"type":"point","shape":"circle","size":21000,"filled":false,"stroke":"#222","strokeWidth":1,"strokeDash":[5,4],"opacity":1},
   "encoding":{"x":{"field":"i","type":"ordinal"},"y":{"field":"j","type":"ordinal"}}},
  {"data":{"name":"probe"},"mark":{"type":"point","shape":"circle","size":64,"filled":false,"stroke":"#111","strokeWidth":1,"opacity":1},
   "encoding":{"x":{"field":"i","type":"ordinal"},"y":{"field":"j","type":"ordinal"}}}
 ]},
{"width":148,"height":150,
 "title":{"text":"(b)\u2003 Ellipse arm","orient":"bottom","anchor":"middle","offset":11},
 "layer":[
  {"data":{"name":"b"},"mark":{"type":"rect","strokeWidth":1.2},
   "encoding":{
    "x":{"field":"i","type":"ordinal","scale":{"type":"band","domain":[0,1,2,3,4,5,6,7,8,9,10,11,12,13,14,15,16,17,18,19,20],"paddingInner":0,"paddingOuter":0},"axis":null},
    "y":{"field":"j","type":"ordinal","scale":{"type":"band","domain":[0,1,2,3,4,5,6,7,8,9,10,11,12,13,14,15,16,17,18,19,20],"paddingInner":0,"paddingOuter":0},"axis":null},
    "color":{"field":"v","type":"quantitative","scale":{"type":"threshold","domain":[55,55.4,55.8,56.2,56.6,57,57.4,57.8,58.2,58.6,59],"range":["#101010","#262626","#3c3c3c","#525252","#686868","#7e7e7e","#949494","#a9a9a9","#bebebe","#d2d2d2","#e6e6e6","#ffffff"]},"legend":null},
    "stroke":{"field":"v","type":"quantitative","scale":{"type":"threshold","domain":[55,55.4,55.8,56.2,56.6,57,57.4,57.8,58.2,58.6,59],"range":["#101010","#262626","#3c3c3c","#525252","#686868","#7e7e7e","#949494","#a9a9a9","#bebebe","#d2d2d2","#e6e6e6","#ffffff"]},"legend":null}}},
  {"data":{"name":"probe"},"mark":{"type":"point","shape":"circle","size":21000,"filled":false,"stroke":"#222","strokeWidth":1,"strokeDash":[5,4],"opacity":1},
   "encoding":{"x":{"field":"i","type":"ordinal"},"y":{"field":"j","type":"ordinal"}}},
  {"data":{"name":"probe"},"mark":{"type":"point","shape":"circle","size":64,"filled":false,"stroke":"#111","strokeWidth":1,"opacity":1},
   "encoding":{"x":{"field":"i","type":"ordinal"},"y":{"field":"j","type":"ordinal"}}}
 ]}
]},
{"spacing":44,"hconcat":[
{"width":148,"height":150,
 "title":{"text":"(c)\u2003 Rectangle arm","orient":"bottom","anchor":"middle","offset":7},
 "layer":[
  {"data":{"name":"c"},"mark":{"type":"rect","strokeWidth":1.2},
   "encoding":{
    "x":{"field":"i","type":"ordinal","scale":{"type":"band","domain":[0,1,2,3,4,5,6,7,8,9,10,11,12,13,14,15,16,17,18,19,20],"paddingInner":0,"paddingOuter":0},"axis":null},
    "y":{"field":"j","type":"ordinal","scale":{"type":"band","domain":[0,1,2,3,4,5,6,7,8,9,10,11,12,13,14,15,16,17,18,19,20],"paddingInner":0,"paddingOuter":0},"axis":null},
    "color":{"field":"v","type":"quantitative","scale":{"type":"threshold","domain":[55,55.4,55.8,56.2,56.6,57,57.4,57.8,58.2,58.6,59],"range":["#101010","#262626","#3c3c3c","#525252","#686868","#7e7e7e","#949494","#a9a9a9","#bebebe","#d2d2d2","#e6e6e6","#ffffff"]},"legend":null},
    "stroke":{"field":"v","type":"quantitative","scale":{"type":"threshold","domain":[55,55.4,55.8,56.2,56.6,57,57.4,57.8,58.2,58.6,59],"range":["#101010","#262626","#3c3c3c","#525252","#686868","#7e7e7e","#949494","#a9a9a9","#bebebe","#d2d2d2","#e6e6e6","#ffffff"]},"legend":null}}},
  {"data":{"name":"probe"},"mark":{"type":"point","shape":"circle","size":21000,"filled":false,"stroke":"#222","strokeWidth":1,"strokeDash":[5,4],"opacity":1},
   "encoding":{"x":{"field":"i","type":"ordinal"},"y":{"field":"j","type":"ordinal"}}},
  {"data":{"name":"probe"},"mark":{"type":"point","shape":"circle","size":64,"filled":false,"stroke":"#111","strokeWidth":1,"opacity":1},
   "encoding":{"x":{"field":"i","type":"ordinal"},"y":{"field":"j","type":"ordinal"}}}
 ]},
{"width":26,"height":148,
 "data":{"name":"bar"},
 "mark":{"type":"rect","stroke":"#444","strokeWidth":0.8},
 "encoding":{
  "y":{"field":"lo","type":"quantitative","scale":{"domain":[54.72,59.14],"nice":false,"zero":false},
   "axis":{"orient":"right","values":[55,57,59],"ticks":false,"domain":false,"grid":false,"labelFont":"Liberation Serif","labelFontSize":19,"labelColor":"#111","labelPadding":6,"labelAlign":"left","labelBaseline":"middle","labelFlush":false,"labelOverlap":false,
    "title":["OASPL","[dB(A)]"],"titleAngle":0,"titleFont":"Liberation Serif","titleFontSize":19,"titleFontWeight":"normal","titleColor":"#111","titleAlign":"left","titleBaseline":"middle","titleX":38,"titleY":70,"titleLineHeight":21}},
  "y2":{"field":"hi"},
  "color":{"field":"lo","type":"quantitative","scale":{"type":"threshold","domain":[55,55.4,55.8,56.2,56.6,57,57.4,57.8,58.2,58.6,59],"range":["#101010","#262626","#3c3c3c","#525252","#686868","#7e7e7e","#949494","#a9a9a9","#bebebe","#d2d2d2","#e6e6e6","#ffffff"]},"legend":null}
 }}
]}
]
}
